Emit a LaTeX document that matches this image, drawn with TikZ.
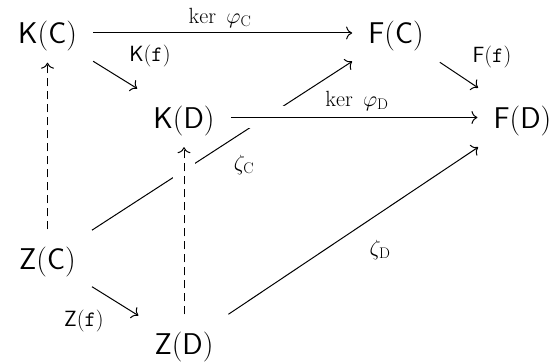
\RequirePackage{fix-cm}
\documentclass[tikz,border=0pt]{standalone}
\usepackage{fontspec}
\usetikzlibrary{arrows.meta}
\begin{document}
\begin{tikzpicture}[x=1pt,y=-1pt,
  obj/.style={font=\fontsize{30}{36}\selectfont, inner xsep=16pt, inner ysep=0pt,
    text height=24pt, text depth=2pt, minimum height=59pt},
  lab/.style={font=\fontsize{22}{26}\selectfont, inner sep=0pt},
  arr/.style={line width=1pt, -{Computer Modern Rightarrow[length=6pt,width=13pt,line width=1pt]}},
  dasharr/.style={arr, dash pattern=on 8pt off 5pt},
  over/.style={preaction={draw=white, solid, line width=22pt, -}}
]
\useasboundingbox (0,0) rectangle (560,363);
% objects
\node[obj] (KC) at (47.5,33) {$\mathsf{K}(\mathsf{C})$};
\node[obj] (FC) at (396,33) {$\mathsf{F}(\mathsf{C})$};
\node[obj] (KD) at (184,117.5) {$\mathsf{K}(\mathsf{D})$};
\node[obj] (FD) at (522.5,117.5) {$\mathsf{F}(\mathsf{D})$};
\node[obj] (ZC) at (47.5,259) {$\mathsf{Z}(\mathsf{C})$};
\node[obj] (ZD) at (184,344) {$\mathsf{Z}(\mathsf{D})$};
% back connector first (it passes under others)
\draw[arr] (ZC) -- (FC);
% connectors
\draw[arr] (KC) -- (FC);
\draw[arr] (KC) -- (KD);
\draw[arr] (FC) -- (FD);
\draw[arr, over] (KD) -- (FD);
\draw[dasharr] (ZC) -- (KC);
\draw[dasharr, over] (ZD) -- (KD);
\draw[arr] (ZC) -- (ZD);
\draw[arr] (ZD) -- (FD);
% labels
\node[lab] (lkc) at (220,18) {$\ker\ \varphi_{\mathrm{C}}$};
\node[lab] (lkf) at (150,56) {$\mathsf{K}(\mathtt{f})$};
\node[lab] (lff) at (492,57) {$\mathsf{F}(\mathtt{f})$};
\node[lab] (lkd) at (357,101) {$\ker\ \varphi_{\mathrm{D}}$};
\node[lab] (lzc) at (244,165) {$\zeta_{\mathrm{C}}$};
\node[lab] (lzd) at (380,250) {$\zeta_{\mathrm{D}}$};
\node[lab] (lzf) at (84,321) {$\mathsf{Z}(\mathtt{f})$};
\end{tikzpicture}
\end{document}
